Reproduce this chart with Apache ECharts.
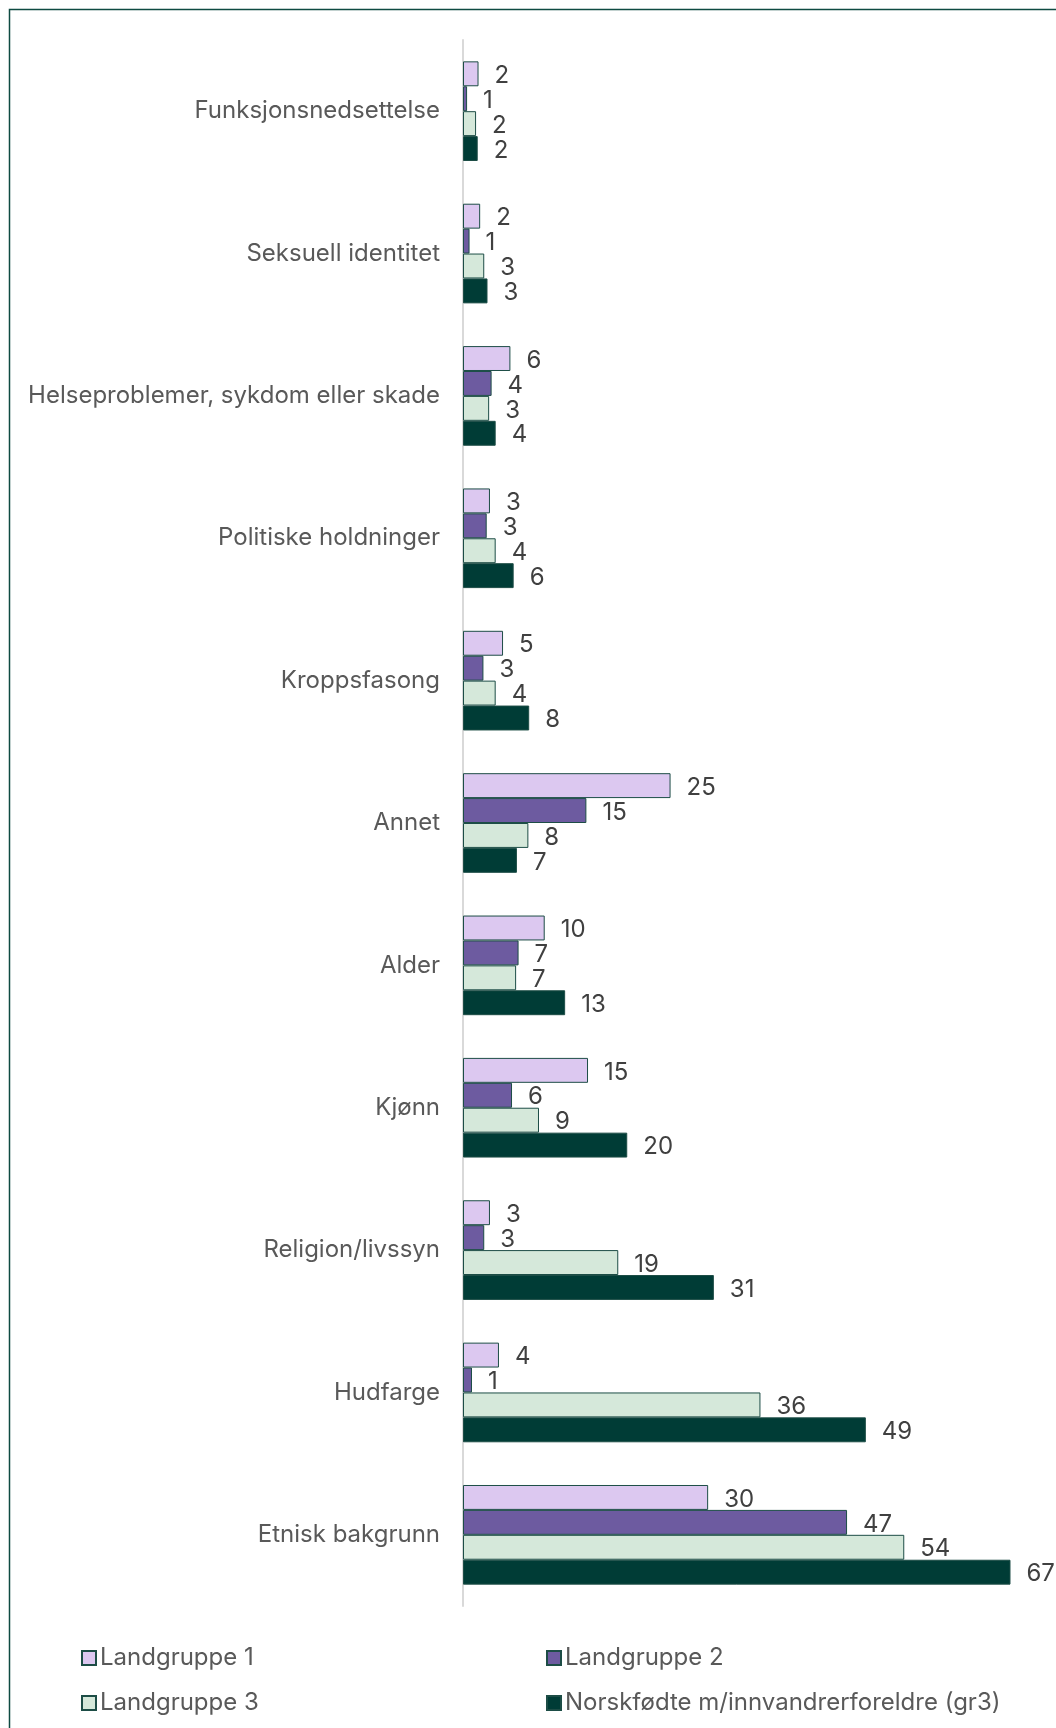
<!DOCTYPE html>
<html>
<head>
<meta charset="utf-8">
<script src="https://cdn.jsdelivr.net/npm/echarts@6/dist/echarts.min.js"></script>
<style>
html,body{margin:0;padding:0;background:#fff;}
#chart{width:1056px;height:1728px;}
</style>
</head>
<body>
<div id="chart"></div>
<script>
const categories = ['Funksjonsnedsettelse','Seksuell identitet','Helseproblemer, sykdom eller skade','Politiske holdninger','Kroppsfasong','Annet','Alder','Kjønn','Religion/livssyn','Hudfarge','Etnisk bakgrunn'];
const seriesNames = ['Landgruppe 1','Landgruppe 2','Landgruppe 3','Norskfødte m/innvandrerforeldre (gr3)'];
const landgruppe1 = [1.9, 2.1, 5.8, 3.3, 4.9, 25.4, 10.0, 15.3, 3.3, 4.4, 30.0];
const landgruppe2 = [0.5, 0.8, 3.5, 2.9, 2.5, 15.1, 6.8, 6.0, 2.6, 1.1, 47.0];
const landgruppe3 = [1.6, 2.6, 3.2, 4.0, 4.0, 8.0, 6.5, 9.3, 19.0, 36.4, 54.0];
const norskfodte  = [1.8, 3.0, 4.0, 6.2, 8.1, 6.6, 12.5, 20.1, 30.7, 49.3, 67.0];
const seriesData = [landgruppe1, landgruppe2, landgruppe3, norskfodte];
const colors = ['#dcc8f0', '#6d5ba0', '#d5e8da', '#003c36'];

const chart = echarts.init(document.getElementById('chart'), null, {renderer:'canvas'});
const FONT = 'Inter, "Noto Sans", sans-serif';

const series = seriesNames.map((name, i) => ({
  name: name,
  type: 'bar',
  data: seriesData[i],
  barGap: '0%',
  barCategoryGap: '30%',
  itemStyle: { color: colors[i], borderColor: '#1d4d46', borderWidth: 1 },
  label: {
    show: true,
    position: 'right',
    distance: 16,
    offset: [0, 2],
    fontFamily: FONT,
    fontSize: 24,
    color: '#404040',
    formatter: p => String(Math.round(p.value))
  },
  animation: false
}));

chart.setOption({
  backgroundColor: '#ffffff',
  animation: false,
  graphic: [{
    type: 'rect',
    z: -10,
    shape: { x: 9.5, y: 9.5, width: 1200, height: 1900 },
    style: { fill: 'none', stroke: '#0e4a42', lineWidth: 1.5 }
  }],
  grid: { left: 463, top: 40, height: 1566, width: 572, containLabel: false },
  xAxis: {
    type: 'value', min: 0, max: 70, show: false
  },
  yAxis: {
    type: 'category',
    inverse: true,
    data: categories,
    axisLine: { show: true, lineStyle: { color: '#d9d9d9', width: 2 } },
    axisTick: { show: false },
    axisLabel: { margin: 23, fontFamily: FONT, fontSize: 24, color: '#595959' }
  },
  legend: [
    {
      data: [seriesNames[0], seriesNames[2]],
      orient: 'vertical',
      left: 76, top: 1641,
      itemWidth: 14, itemHeight: 14, itemGap: 21,
      icon: 'rect',
      textStyle: { fontFamily: FONT, fontSize: 24, color: '#595959', lineHeight: 24, padding: [0,0,0,-1] }
    },
    {
      data: [seriesNames[1], seriesNames[3]],
      orient: 'vertical',
      left: 541, top: 1641,
      itemWidth: 14, itemHeight: 14, itemGap: 21,
      icon: 'rect',
      textStyle: { fontFamily: FONT, fontSize: 24, color: '#595959', lineHeight: 24, padding: [0,0,0,-1] }
    }
  ],
  series: series
});
</script>
</body>
</html>
